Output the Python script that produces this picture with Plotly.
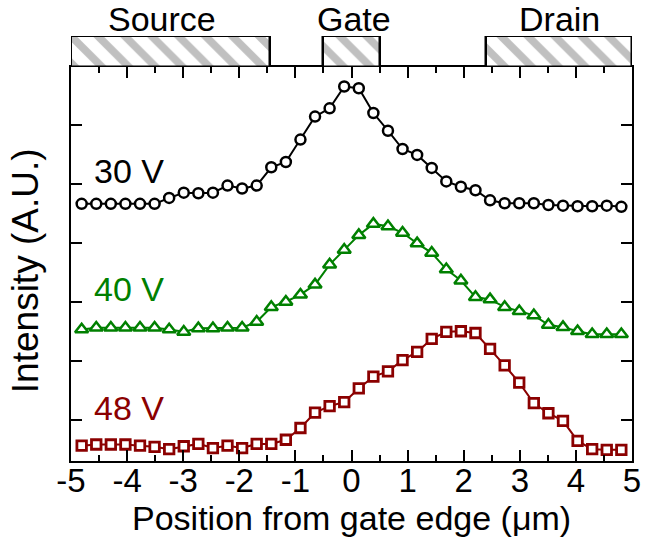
import plotly.graph_objects as go

# ---------------- data ----------------
x_pos = [-4.81, -4.55, -4.29, -4.03, -3.77, -3.51, -3.25, -2.99, -2.73, -2.47,
         -2.21, -1.95, -1.69, -1.43, -1.17, -0.91, -0.65, -0.39, -0.13, 0.13,
         0.39, 0.65, 0.91, 1.17, 1.43, 1.69, 1.95, 2.21, 2.47, 2.73,
         2.99, 3.25, 3.51, 3.77, 4.03, 4.29, 4.55, 4.81]

i_30V = [4.66, 4.66, 4.66, 4.66, 4.66, 4.66, 4.76, 4.85, 4.84, 4.85,
         4.97, 4.92, 4.97, 5.28, 5.37, 5.75, 6.14, 6.28, 6.65, 6.62,
         6.20, 5.90, 5.59, 5.49, 5.27, 5.04, 4.95, 4.89, 4.72, 4.67,
         4.67, 4.67, 4.64, 4.63, 4.62, 4.62, 4.63, 4.61]

i_40V = [2.53, 2.56, 2.56, 2.56, 2.56, 2.56, 2.53, 2.49, 2.55, 2.55,
         2.56, 2.56, 2.66, 2.91, 3.00, 3.12, 3.29, 3.63, 3.88, 4.13,
         4.32, 4.28, 4.17, 3.99, 3.83, 3.55, 3.36, 3.08, 3.04, 2.91,
         2.84, 2.77, 2.61, 2.57, 2.50, 2.45, 2.45, 2.45]

i_48V = [0.56, 0.58, 0.58, 0.58, 0.56, 0.54, 0.50, 0.55, 0.59, 0.52,
         0.56, 0.52, 0.59, 0.59, 0.66, 0.86, 1.12, 1.23, 1.30, 1.53,
         1.73, 1.82, 2.01, 2.15, 2.37, 2.49, 2.50, 2.47, 2.20, 1.92,
         1.63, 1.28, 1.11, 0.98, 0.64, 0.50, 0.49, 0.49]

series_names = ["30 V", "40 V", "48 V"]
series_values = [i_30V, i_40V, i_48V]

region_names = ["Source", "Gate", "Drain"]
region_start = [-5.0, -0.5, 2.4]
region_end = [-1.45, 0.5, 5.0]

x_tick_vals = [-5, -4, -3, -2, -1, 0, 1, 2, 3, 4, 5]
x_tick_labels = ["-5", "-4", "-3", "-2", "-1", "0", "1", "2", "3", "4", "5"]
y_tick_vals = [1, 2, 3, 4, 5, 6]

x_title = "Position from gate edge (μm)"
y_title = "Intensity (A.U.)"

# ---------------- styles ----------------
FONT = "Liberation Sans, Arial, sans-serif"
colors = ["#000000", "#008000", "#8b0000"]
symbols = ["circle", "triangle-up", "square"]
sizes = [10, 11.5, 9.5]
line_w = [2.5, 2.5, 2.8]
label_y = [5.22, 3.22, 1.20]
region_label_shift = [-9, 2, 0]

fig = go.Figure()

# hatched electrode boxes
fig.add_trace(go.Bar(
    x=[(s + e) / 2 for s, e in zip(region_start, region_end)],
    y=[1] * len(region_names),
    width=[e - s for s, e in zip(region_start, region_end)],
    base=0,
    xaxis="x", yaxis="y2",
    marker=dict(color="white",
                line=dict(color="black", width=2.5),
                pattern=dict(shape="\\", fgcolor="#c0c0c0", bgcolor="white",
                             size=19, solidity=0.4, fillmode="replace")),
    cliponaxis=False, hoverinfo="skip", showlegend=False,
))

for name, vals, c, sym, sz, lw in zip(series_names, series_values, colors,
                                       symbols, sizes, line_w):
    fig.add_trace(go.Scatter(
        x=x_pos, y=vals, mode="lines+markers", name=name,
        line=dict(color=c, width=2),
        marker=dict(symbol=sym, size=sz, color="white",
                    line=dict(color=c, width=lw)),
        cliponaxis=False, showlegend=False,
    ))

annotations = []
for name, c, ly in zip(series_names, colors, label_y):
    annotations.append(dict(x=-4.63, y=ly, xref="x", yref="y", text=name,
                            showarrow=False, xanchor="left", yanchor="middle",
                            font=dict(family=FONT, size=34, color=c)))
for name, s, e, sh in zip(region_names, region_start, region_end, region_label_shift):
    annotations.append(dict(x=(s + e) / 2, y=1, xref="x", yref="y2", text=name,
                            showarrow=False, xanchor="center", yanchor="bottom",
                            yshift=-4, xshift=sh,
                            font=dict(family=FONT, size=34, color="black")))
# axis titles
annotations.append(dict(x=0.5, y=-0.134, xref="paper", yref="paper", text=x_title,
                        showarrow=False, xanchor="center", yanchor="middle",
                        font=dict(family=FONT, size=34, color="black")))
annotations.append(dict(x=-0.081, y=0.448, xref="paper", yref="paper", text=y_title,
                        showarrow=False, xanchor="center", yanchor="middle",
                        textangle=-90,
                        font=dict(family=FONT, size=37, color="black")))

fig.update_layout(
    width=656, height=543,
    margin=dict(l=71, r=24, t=36, b=82),
    plot_bgcolor="white", paper_bgcolor="white",
    font=dict(family=FONT, size=33, color="black"),
    showlegend=False,
    bargap=0,
    xaxis=dict(range=[-5, 5], tickvals=x_tick_vals, ticktext=x_tick_labels,
               ticks="inside", ticklen=11, tickwidth=2, tickcolor="black",
               minor=dict(dtick=0.5, ticks="inside", ticklen=6, tickwidth=2,
                          tickcolor="black"),
               showline=True, linewidth=2, linecolor="black", mirror="ticks",
               showgrid=False, zeroline=False, automargin=False,
               ticklabelstandoff=-11,
               tickfont=dict(family=FONT, size=33)),
    yaxis=dict(domain=[0, 0.927], range=[0.30, 6.98], tickvals=y_tick_vals,
               showticklabels=False, automargin=False,
               ticks="inside", ticklen=11, tickwidth=2, tickcolor="black",
               showline=True, linewidth=2, linecolor="black", mirror="ticks",
               showgrid=False, zeroline=False),
    yaxis2=dict(domain=[0.927, 1], range=[0, 1], visible=False, anchor="x",
                fixedrange=True),
    annotations=annotations,
)

fig.write_html("out.html")
